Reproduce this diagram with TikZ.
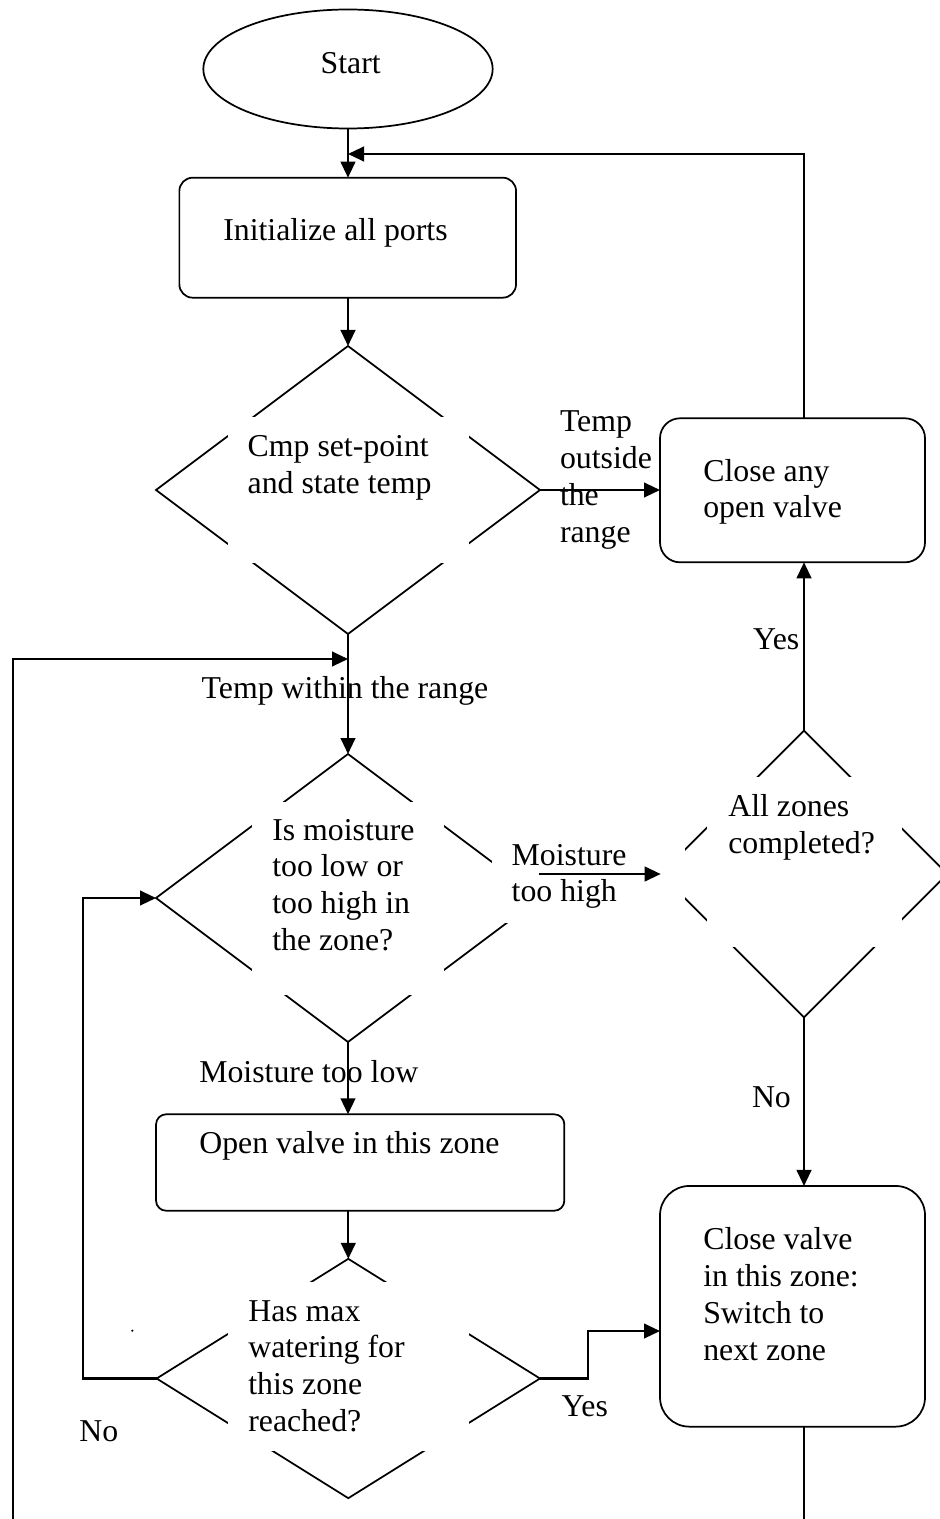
\documentclass[tikz,border=0pt]{standalone}
\usepackage{fontspec}
\setmainfont{Liberation Serif}
\usetikzlibrary{shapes.geometric,arrows.meta}
\tikzset{
  shapeline/.style={draw=black, line width=1.3pt, inner sep=0pt, outer sep=0pt},
  procbox/.style={shapeline, rectangle, rounded corners=#1},
  decbox/.style={shapeline, diamond},
  startbox/.style={shapeline, ellipse},
  lbl/.style={inner sep=0pt, outer sep=0pt, anchor=base west, font=\fontsize{23.85}{27.7}\selectfont},
  arr/.style={line width=1.6pt, -{Triangle[length=12pt,width=11pt]}},
  plainline/.style={line width=1.6pt},
}
\newcommand{\mylines}[1]{\begin{tabular}[t]{@{}l@{}}#1\end{tabular}}
\begin{document}
\begin{tikzpicture}[x=0.75pt,y=-0.75pt]
\useasboundingbox (0,0) rectangle (939,1519);
% shapes
\node[startbox, minimum width=217pt, minimum height=89.25pt] (start) at (348,69) {};
\node[procbox=10pt, minimum width=252.5pt, minimum height=90pt] (init) at (347.7,237.7) {};
\node[decbox, minimum width=288pt, minimum height=216pt] (d1) at (348,490) {};
\node[procbox=15pt, minimum width=198.75pt, minimum height=108pt] (cv1) at (792.5,490.3) {};
\node[decbox, minimum width=288pt, minimum height=216pt] (d2) at (348,898) {};
\node[decbox, minimum width=215pt, minimum height=215pt] (d3) at (804,874) {};
\node[procbox=7.5pt, minimum width=306.2pt, minimum height=72.3pt] (ov) at (360.2,1162.5) {};
\node[decbox, minimum width=287.5pt, minimum height=179.5pt] (d4) at (348.3,1378.5) {};
\node[procbox=22pt, minimum width=198.75pt, minimum height=180.5pt] (cv2) at (792.5,1306.3) {};
% white text boxes over the diamonds
\fill[white] (228,417) rectangle (469,563);
\fill[white] (251.7,801.7) rectangle (444.3,995);
\fill[white] (707.3,777.3) rectangle (901.7,947.3);
\fill[white] (227.7,1281.7) rectangle (469,1451);
\fill[white] (491.7,836) rectangle (685,922.7);
% texts
\node[lbl] (tstart) at (320.7,74) {Start};
\node[lbl] (tinit) at (223.3,240.7) {Initialize all ports};
\node[lbl] (td1) at (247.7,456.7) {\mylines{Cmp set-point\\and state temp}};
\node[lbl] (tout) at (560,431.7) {\mylines{Temp\\outside\\the\\range}};
\node[lbl] (tcv1) at (703.3,481) {\mylines{Close any\\open valve}};
\node[lbl, anchor=base east] (tyes1) at (799.3,649.3) {Yes};
\node[lbl] (twithin) at (201.7,698) {Temp within the range};
\node[lbl] (td2) at (272.3,840) {\mylines{Is moisture\\too low or\\too high in\\the zone?}};
\node[lbl] (thigh) at (511.7,865) {\mylines{Moisture\\too high}};
\node[lbl] (td3) at (728.3,816.7) {\mylines{All zones\\completed?}};
\node[lbl] (tno1) at (752,1107) {No};
\node[lbl] (tlow) at (199.3,1082.7) {Moisture too low};
\node[lbl] (tov) at (199.3,1153.3) {Open valve in this zone};
\node[lbl] (td4) at (248.3,1321) {\mylines{Has max\\watering for\\this zone\\reached?}};
\node[lbl] (tcv2) at (703.3,1249.3) {\mylines{Close valve\\in this zone:\\Switch to\\next zone}};
\node[lbl] (tyes2) at (561.7,1416.7) {Yes};
\node[lbl] (tno2) at (79.3,1441.7) {No};
\fill (132.3,1330.7) circle (1.2);
% coordinates
\coordinate (j0) at (348,154);
\coordinate (j1) at (348,659);
\coordinate (lb) at (13,1519);
\coordinate (rb) at (804,1519);
\coordinate (ms) at (539.3,874);
\coordinate (v2in) at (660,1331);
% connectors
\draw[arr] (start.south) -- (start.south |- init.north);
\draw[arr] (init.south -| d1.north) -- (d1.north);
\draw[arr] (d1.east) -- (d1.east -| cv1.west);
\draw[arr] (d1.south) -- (d2.north);
\draw[arr] (lb) |- (j1);
\draw[arr] (d2.south) -- (d2.south |- ov.north);
\draw[arr] (ms) -- (d3.west);
\draw[arr] (d3.north) -- (d3.north |- cv1.south);
\draw[arr] (d3.north |- cv1.north) |- (j0);
\draw[arr] (d3.south) -- (d3.south |- cv2.north);
\draw[plainline] (d3.south |- cv2.south) -- (rb);
\draw[arr] (ov.south -| d4.north) -- (d4.north);
\draw[arr] (d4.west) -- ++(-73.4,0) |- (d2.west);
\draw[arr] (d4.east) -- ++(47.7,0) |- (v2in);
\end{tikzpicture}
\end{document}
